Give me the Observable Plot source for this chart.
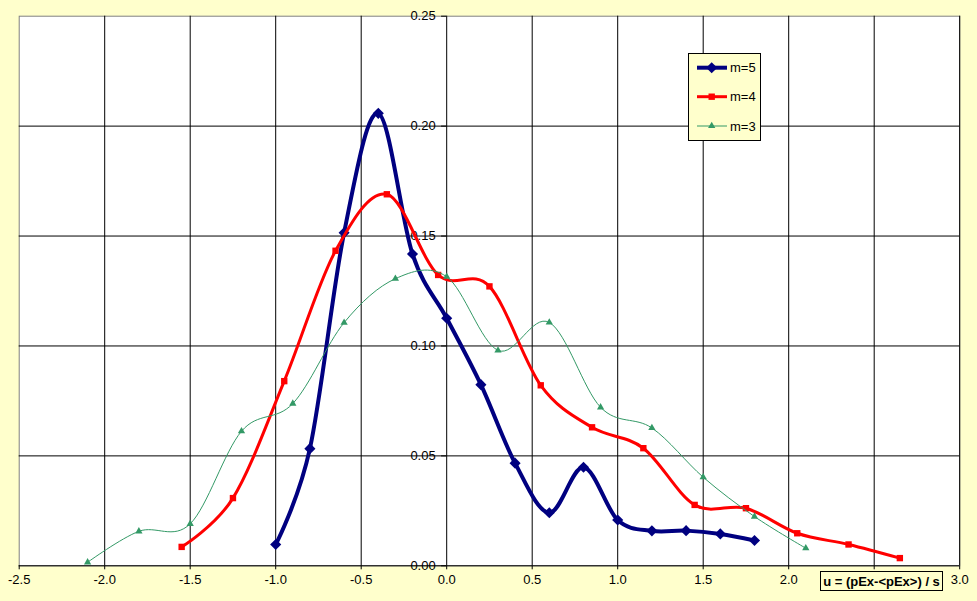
<!DOCTYPE html>
<html><head><meta charset="utf-8">
<script src="https://cdn.jsdelivr.net/npm/d3@7"></script>
<script src="https://cdn.jsdelivr.net/npm/@observablehq/plot@0.6"></script>
<style>
html,body{margin:0;padding:0;background:#FFFFCC;}
#chart svg{display:block;}
</style>
</head><body><div id="chart"></div>
<script>
// ---- data ----
const seriesNames = ["m=5", "m=4", "m=3"];
const seriesColors = ["#000080", "#FF0000", "#339966"];
const seriesSymbols = ["diamond2", "square", "triangle"];

const m5U = [-1.0, -0.8, -0.6, -0.4, -0.2, 0.0, 0.2, 0.4, 0.6, 0.8, 1.0, 1.2, 1.4, 1.6, 1.8];
const m5V = [0.0097, 0.0533, 0.1515, 0.2058, 0.1418, 0.1126, 0.0824, 0.0467, 0.0241, 0.0448, 0.0208, 0.0159, 0.0160, 0.0145, 0.0115];

const m4U = [-1.55, -1.25, -0.95, -0.65, -0.35, -0.05, 0.25, 0.55, 0.85, 1.15, 1.45, 1.75, 2.05, 2.35, 2.65];
const m4V = [0.0086, 0.0308, 0.0840, 0.1433, 0.1690, 0.1323, 0.1271, 0.0821, 0.0630, 0.0535, 0.0277, 0.0262, 0.0148, 0.0097, 0.0035];

const m3U = [-2.1, -1.8, -1.5, -1.2, -0.9, -0.6, -0.3, 0.0, 0.3, 0.6, 0.9, 1.2, 1.5, 1.8, 2.1];
const m3V = [0.0016, 0.0157, 0.0191, 0.0612, 0.0738, 0.1106, 0.1306, 0.1315, 0.0980, 0.1107, 0.0721, 0.0627, 0.0403, 0.0224, 0.0080];

const xTicks = [-2.5, -2.0, -1.5, -1.0, -0.5, 0.0, 0.5, 1.0, 1.5, 2.0, 2.5, 3.0];
// the 2.5 label is hidden behind the axis-title box in the original
const xTickLabels = ["-2.5", "-2.0", "-1.5", "-1.0", "-0.5", "0.0", "0.5", "1.0", "1.5", "2.0", "", "3.0"];
const yTicks = [0.00, 0.05, 0.10, 0.15, 0.20, 0.25];
const yTickLabels = ["0.00", "0.05", "0.10", "0.15", "0.20", "0.25"];
const axisTitle = "u = (pEx-<pEx>) / s";

// ---- build table ----
const seriesU = [m5U, m4U, m3U];
const seriesV = [m5V, m4V, m3V];
const rows = [];
seriesNames.forEach((name, s) => {
  seriesU[s].forEach((u, i) => rows.push({series: name, u, v: seriesV[s][i]}));
});
const sub = name => rows.filter(d => d.series === name);

const lineWidths = [4, 3, 1];
const dotR = [5, 3.6, 2.7];

const fmtX = d => { const i = xTicks.findIndex(t => Math.abs(t - d) < 1e-9); return i >= 0 ? xTickLabels[i] : ""; };

const seriesMarks = [];
seriesNames.forEach((name, s) => {
  seriesMarks.push(Plot.line(sub(name), {x: "u", y: "v", curve: "cardinal", stroke: seriesColors[s], strokeWidth: lineWidths[s], strokeLinejoin: "round"}));
  seriesMarks.push(Plot.dot(sub(name), {x: "u", y: "v", symbol: seriesSymbols[s], r: dotR[s], fill: seriesColors[s], stroke: "none"}));
});

const plot = Plot.plot({
  width: 977,
  height: 601,
  marginLeft: 18.7,
  marginRight: 17.8,
  marginTop: 15.7,
  marginBottom: 35.7,
  x: {domain: [-2.5, 3.0]},
  y: {domain: [0, 0.25], axis: null},
  style: {background: "#FFFFCC", fontFamily: "'Liberation Sans', Arial, sans-serif", fontSize: "13px", color: "black", overflow: "visible"},
  marks: [
    Plot.frame({fill: "white", stroke: "#808080"}),
    Plot.ruleX(xTicks.slice(1), {stroke: "black", strokeWidth: 1}),
    Plot.ruleY(yTicks.slice(0, -1), {stroke: "black", strokeWidth: 1}),
    Plot.axisX({ticks: xTicks, tickFormat: fmtX, tickSize: 4, tickPadding: 5, label: null, fontSize: 13, stroke: "black"}),
    Plot.ruleY(yTicks, {x1: 0, x2: -0.03, stroke: "black"}),
    Plot.text(yTicks, {x: 0, y: d => d, text: (d, i) => yTickLabels[i], textAnchor: "end", dx: -11, fontSize: 13, fill: "black"}),
    ...seriesMarks
  ]
});

document.getElementById("chart").appendChild(plot);

// ---- legend & axis title box (drawn into the svg) ----
const svg = d3.select(plot);
const leg = svg.append("g").attr("text-anchor", "start");
leg.append("rect").attr("x", 688.5).attr("y", 53.5).attr("width", 72).attr("height", 87)
  .attr("fill", "#FFFFCC").attr("stroke", "black").attr("stroke-width", 1);
const legY = [67.7, 96.7, 126];
const symTypes = [d3.symbolDiamond2, d3.symbolSquare, d3.symbolTriangle];
seriesNames.forEach((name, s) => {
  const y = legY[s];
  leg.append("line").attr("x1", 697).attr("x2", 727).attr("y1", y).attr("y2", y)
    .attr("stroke", seriesColors[s]).attr("stroke-width", lineWidths[s]);
  leg.append("path").attr("d", d3.symbol(symTypes[s], Math.PI * dotR[s] * dotR[s])())
    .attr("transform", `translate(711.7,${y})`).attr("fill", seriesColors[s]);
  leg.append("text").attr("x", 730).attr("y", y).attr("dy", "0.35em").attr("text-anchor", "start")
    .attr("font-size", 13).attr("fill", "black").text(name);
});

const tb = svg.append("g");
tb.append("rect").attr("x", 820.5).attr("y", 571.5).attr("width", 122).attr("height", 19)
  .attr("fill", "#FFFFCC").attr("stroke", "black").attr("stroke-width", 1);
tb.append("text").attr("x", 881.5).attr("y", 581).attr("dy", "0.35em").attr("text-anchor", "middle")
  .attr("font-size", 13).attr("font-weight", "bold").attr("fill", "black").text(axisTitle);
</script>
</body></html>
